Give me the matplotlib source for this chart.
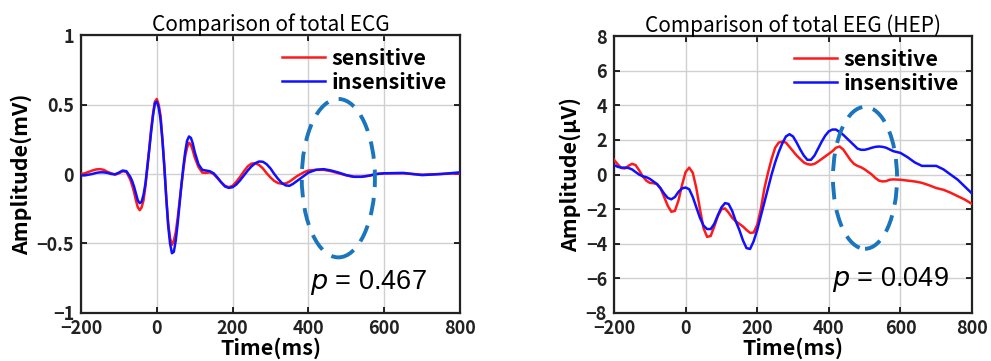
import matplotlib
matplotlib.use("Agg")
import matplotlib.pyplot as plt
from matplotlib.patches import Ellipse

plt.rcParams["font.family"] = ["Noto Sans CJK JP", "DejaVu Sans"]

# ---- left panel: ECG (mV) ----
t_ecg = [-200, -190, -180, -170, -160, -150, -140, -130, -120, -110, -100, -90, -80,
         -70, -65, -60, -55, -50, -45, -40, -35, -30, -25, -20, -15, -10, -5,
         0, 5, 10, 15, 20, 25, 30, 35, 40, 45, 50, 55, 60, 65, 70, 75, 80, 85, 90, 95,
         100, 110, 120, 130, 140, 150, 160, 170, 180, 190, 200, 210, 220, 230, 240, 250,
         260, 270, 280, 290, 300, 310, 320, 330, 340, 350, 360, 370, 380, 390, 400,
         420, 440, 460, 480, 500, 520, 540, 560, 580, 600, 650, 700, 750, 800]
ecg_sensitive = [0.0, 0.005, 0.015, 0.025, 0.033, 0.035, 0.03, 0.015, 0.005, -0.005, 0.005, 0.02, 0.015,
                 -0.04, -0.08, -0.13, -0.19, -0.24, -0.26, -0.24, -0.19, -0.09, 0.04, 0.18, 0.32, 0.43, 0.52,
                 0.54, 0.5, 0.42, 0.25, 0.05, -0.17, -0.35, -0.46, -0.51, -0.48, -0.42, -0.32, -0.2, -0.08, 0.03, 0.13, 0.19, 0.225, 0.21, 0.17,
                 0.12, 0.05, 0.01, 0.008, 0.012, 0.0, -0.03, -0.06, -0.085, -0.095, -0.085, -0.055, -0.02, 0.02, 0.055, 0.075,
                 0.077, 0.065, 0.04, 0.005, -0.025, -0.05, -0.065, -0.07, -0.068, -0.055, -0.035, -0.015, 0.0, 0.015, 0.025,
                 0.03, 0.03, 0.02, 0.005, -0.01, -0.02, -0.02, -0.012, 0.0, 0.005, 0.005, -0.005, 0.0, 0.005]
ecg_insensitive = [-0.01, -0.01, -0.005, 0.0, 0.008, 0.012, 0.012, 0.008, 0.0, -0.002, 0.01, 0.025, 0.02,
                   -0.02, -0.05, -0.09, -0.14, -0.19, -0.21, -0.2, -0.15, -0.07, 0.05, 0.17, 0.3, 0.42, 0.51,
                   0.52, 0.48, 0.39, 0.24, 0.05, -0.17, -0.37, -0.5, -0.57, -0.56, -0.48, -0.36, -0.22, -0.08, 0.05, 0.16, 0.24, 0.27, 0.26, 0.22,
                   0.16, 0.07, 0.03, 0.025, 0.02, 0.005, -0.025, -0.06, -0.09, -0.1, -0.095, -0.075, -0.045, -0.01, 0.025, 0.055,
                   0.078, 0.09, 0.088, 0.07, 0.04, 0.0, -0.035, -0.065, -0.082, -0.085, -0.07, -0.05, -0.03, -0.01, 0.01,
                   0.03, 0.035, 0.025, 0.01, -0.008, -0.02, -0.02, -0.012, 0.0, 0.005, 0.008, -0.008, 0.0, 0.012]

# ---- right panel: EEG / HEP (uV) ----
t_eeg = list(range(-200, 580, 10)) + list(range(580, 801, 20))
eeg_sensitive = [0.85, 0.6, 0.38, 0.35, 0.5, 0.62, 0.55, 0.25, -0.1, -0.35,
                 -0.48, -0.5, -0.55, -0.8, -1.3, -1.8, -2.15, -2.1, -1.5, -0.6,
                 0.15, 0.4, 0.1, -0.8, -2.0, -3.1, -3.6, -3.55, -3.0, -2.4,
                 -2.0, -1.96, -2.2, -2.5, -2.7, -2.85, -3.0, -3.2, -3.37, -3.35,
                 -2.9, -2.0, -0.8, 0.1, 0.9, 1.55, 1.85, 1.9, 1.85, 1.6,
                 1.35, 1.1, 0.9, 0.7, 0.6, 0.57, 0.62, 0.75, 0.9, 1.05,
                 1.2, 1.35, 1.55, 1.62, 1.45, 1.15, 0.85, 0.62, 0.5, 0.42,
                 0.3, 0.15, 0.0, -0.2, -0.35, -0.4, -0.38, -0.3,
                 -0.28, -0.3, -0.35, -0.4, -0.48, -0.62, -0.78, -0.88, -1.05, -1.25, -1.45, -1.7]
eeg_insensitive = [0.55, 0.45, 0.4, 0.4, 0.38, 0.3, 0.15, 0.0, -0.1, -0.15,
                   -0.25, -0.4, -0.55, -0.8, -1.1, -1.35, -1.43, -1.3, -1.0, -0.8,
                   -0.75, -0.85, -1.3, -1.9, -2.5, -2.95, -3.15, -3.15, -2.85, -2.35,
                   -1.9, -1.65, -1.7, -2.1, -2.7, -3.2, -3.8, -4.25, -4.3, -3.85,
                   -3.2, -2.4, -1.6, -0.8, 0.0, 0.7, 1.3, 1.8, 2.2, 2.33,
                   2.2, 1.85, 1.45, 1.1, 0.85, 0.85, 1.1, 1.5, 1.9, 2.25,
                   2.5, 2.6, 2.6, 2.45, 2.3, 2.1, 1.9, 1.7, 1.5, 1.43,
                   1.43, 1.48, 1.55, 1.6, 1.62, 1.6, 1.55, 1.45,
                   1.35, 1.25, 1.0, 0.7, 0.5, 0.5, 0.5, 0.3, 0.0, -0.3, -0.7, -1.1]

panels = [
    dict(t=t_ecg, sens=ecg_sensitive, insens=ecg_insensitive,
         title="Comparison of total ECG", ylabel="Amplitude(mV)",
         ylim=(-1, 1), yticks=[-1, -0.5, 0, 0.5, 1], yticklabels=["\u22121", "\u22120.5", "0", "0.5", "1"],
         ell=(479, -0.03, 193, 1.14), ptext="0.467", ppos=(405, -0.78),
         rect=[0.0817, 0.133, 0.3825, 0.770]),
    dict(t=t_eeg, sens=eeg_sensitive, insens=eeg_insensitive,
         title="Comparison of total EEG (HEP)", ylabel="Amplitude(\u03bcV)",
         ylim=(-8, 8), yticks=list(range(-8, 9, 2)),
         yticklabels=["\u22128", "\u22126", "\u22124", "\u22122", "0", "2", "4", "6", "8"],
         ell=(501, -0.19, 179, 8.2), ptext="0.049", ppos=(408, -6.06),
         rect=[0.6196, 0.133, 0.3613, 0.767]),
]

fig = plt.figure(figsize=(9.91, 3.61), dpi=100)

for p in panels:
    ax = fig.add_axes(p["rect"])
    ax.plot(p["t"], p["sens"], color="#ff1a1a", lw=1.8, label="sensitive", zorder=3)
    ax.plot(p["t"], p["insens"], color="#1010ff", lw=1.8, label="insensitive", zorder=4)
    cx, cy, w, h = p["ell"]
    ax.add_patch(Ellipse((cx, cy), w, h, fill=False, edgecolor="#1b75bc",
                         lw=2.8, linestyle=(0, (4.5, 2.8)), zorder=5))
    ax.text(p["ppos"][0], p["ppos"][1], "$p$ = " + p["ptext"], fontsize=19.5,
            family=["Liberation Sans", "DejaVu Sans"], va="center", ha="left", zorder=6)

    ax.set_xlim(-200, 800)
    ax.set_ylim(*p["ylim"])
    ax.set_xticks([-200, 0, 200, 400, 600, 800])
    ax.set_xticklabels(["\u2212200", "0", "200", "400", "600", "800"])
    ax.set_yticks(p["yticks"])
    ax.set_yticklabels(p["yticklabels"])
    ax.tick_params(direction="in", top=True, right=True, length=4, width=1.2,
                   labelsize=13)
    ax.tick_params(axis="x", pad=4)
    ax.tick_params(axis="y", pad=5)
    for lab in ax.get_xticklabels() + ax.get_yticklabels():
        lab.set_fontweight("bold")
        lab.set_color("#222222")
    ax.grid(color="#d0d0d0", lw=1.0)
    ax.set_axisbelow(True)
    for s in ax.spines.values():
        s.set_linewidth(1.6)
        s.set_color("#222222")

    ax.set_title(p["title"], fontsize=15, pad=3)
    ax.set_xlabel("Time(ms)", fontsize=15.5, fontweight="bold", labelpad=0)
    ax.set_ylabel(p["ylabel"], fontsize=15.5, fontweight="bold", labelpad=3)
    ax.legend(loc="upper right", frameon=False, handlelength=2.0,
              handletextpad=0.3, labelspacing=0.12, borderaxespad=0.2,
              prop=dict(weight="bold", size=15.5))

fig.savefig("out.png", dpi=100)
